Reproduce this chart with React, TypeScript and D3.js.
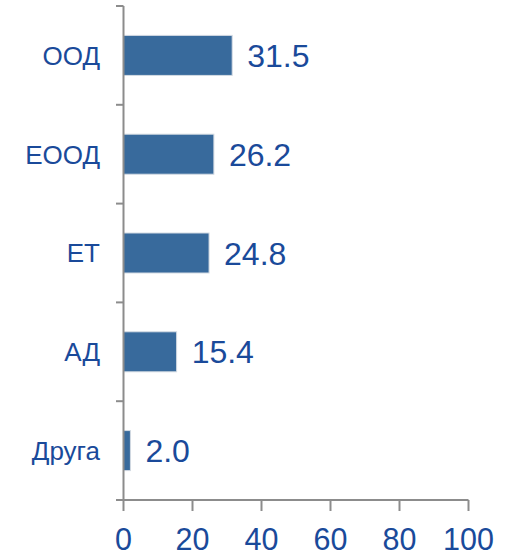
import React from "react";
import * as d3 from "d3";

const categories = ["ООД", "ЕООД", "ЕТ", "АД", "Друга"];
const values = [31.5, 26.2, 24.8, 15.4, 2.0];
const xTicks = [0, 20, 40, 60, 80, 100];

const W = 513;
const H = 555;

export default function App() {
  const x = d3.scaleLinear().domain([0, 100]).range([123.5, 468.5]);
  const y = d3
    .scaleBand<string>()
    .domain(categories)
    .range([6, 500])
    .paddingInner(0.595)
    .paddingOuter(0.2975);
  const textColor = "#1a4a9a";
  const axisColor = "#8c8c8c";
  const font = "'Liberation Sans', Arial, sans-serif";
  const yBoundaries = d3.range(categories.length + 1).map((i) => 6 + i * ((500 - 6) / categories.length));

  return (
    <svg
      width={W}
      height={H}
      style={{ position: "absolute", left: 0, top: 0, background: "#fff" }}
      fontFamily={font}
    >
      {categories.map((c, i) => (
        <rect
          key={c}
          x={x(0)}
          y={y(c)!}
          width={x(values[i]) - x(0)}
          height={y.bandwidth()}
          fill="#386a9c"
          stroke="#d4dbe3"
          strokeWidth={1}
        />
      ))}
      {categories.map((c, i) => (
        <text
          key={c + "v"}
          x={x(values[i]) + 15}
          y={y(c)! + y.bandwidth() / 2}
          dy="0.36em"
          fontSize={32}
          fill={textColor}
        >
          {values[i].toFixed(1)}
        </text>
      ))}
      {categories.map((c) => (
        <text
          key={c + "c"}
          x={100}
          y={y(c)! + y.bandwidth() / 2}
          dy="0.36em"
          fontSize={26}
          textAnchor="end"
          fill={textColor}
        >
          {c}
        </text>
      ))}
      <line x1={x(0)} x2={x(0)} y1={6} y2={500} stroke={axisColor} strokeWidth={2} />
      {yBoundaries.map((yy, i) => (
        <line key={"yt" + i} x1={116} x2={x(0)} y1={yy} y2={yy} stroke={axisColor} strokeWidth={2} />
      ))}
      <line x1={116} x2={x(100)} y1={500} y2={500} stroke={axisColor} strokeWidth={2} />
      {xTicks.map((t) => (
        <g key={"xt" + t}>
          <line x1={x(t)} x2={x(t)} y1={500} y2={511} stroke={axisColor} strokeWidth={2} />
          <text x={x(t)} y={550} fontSize={30.5} textAnchor="middle" fill={textColor}>
            {t}
          </text>
        </g>
      ))}
    </svg>
  );
}
